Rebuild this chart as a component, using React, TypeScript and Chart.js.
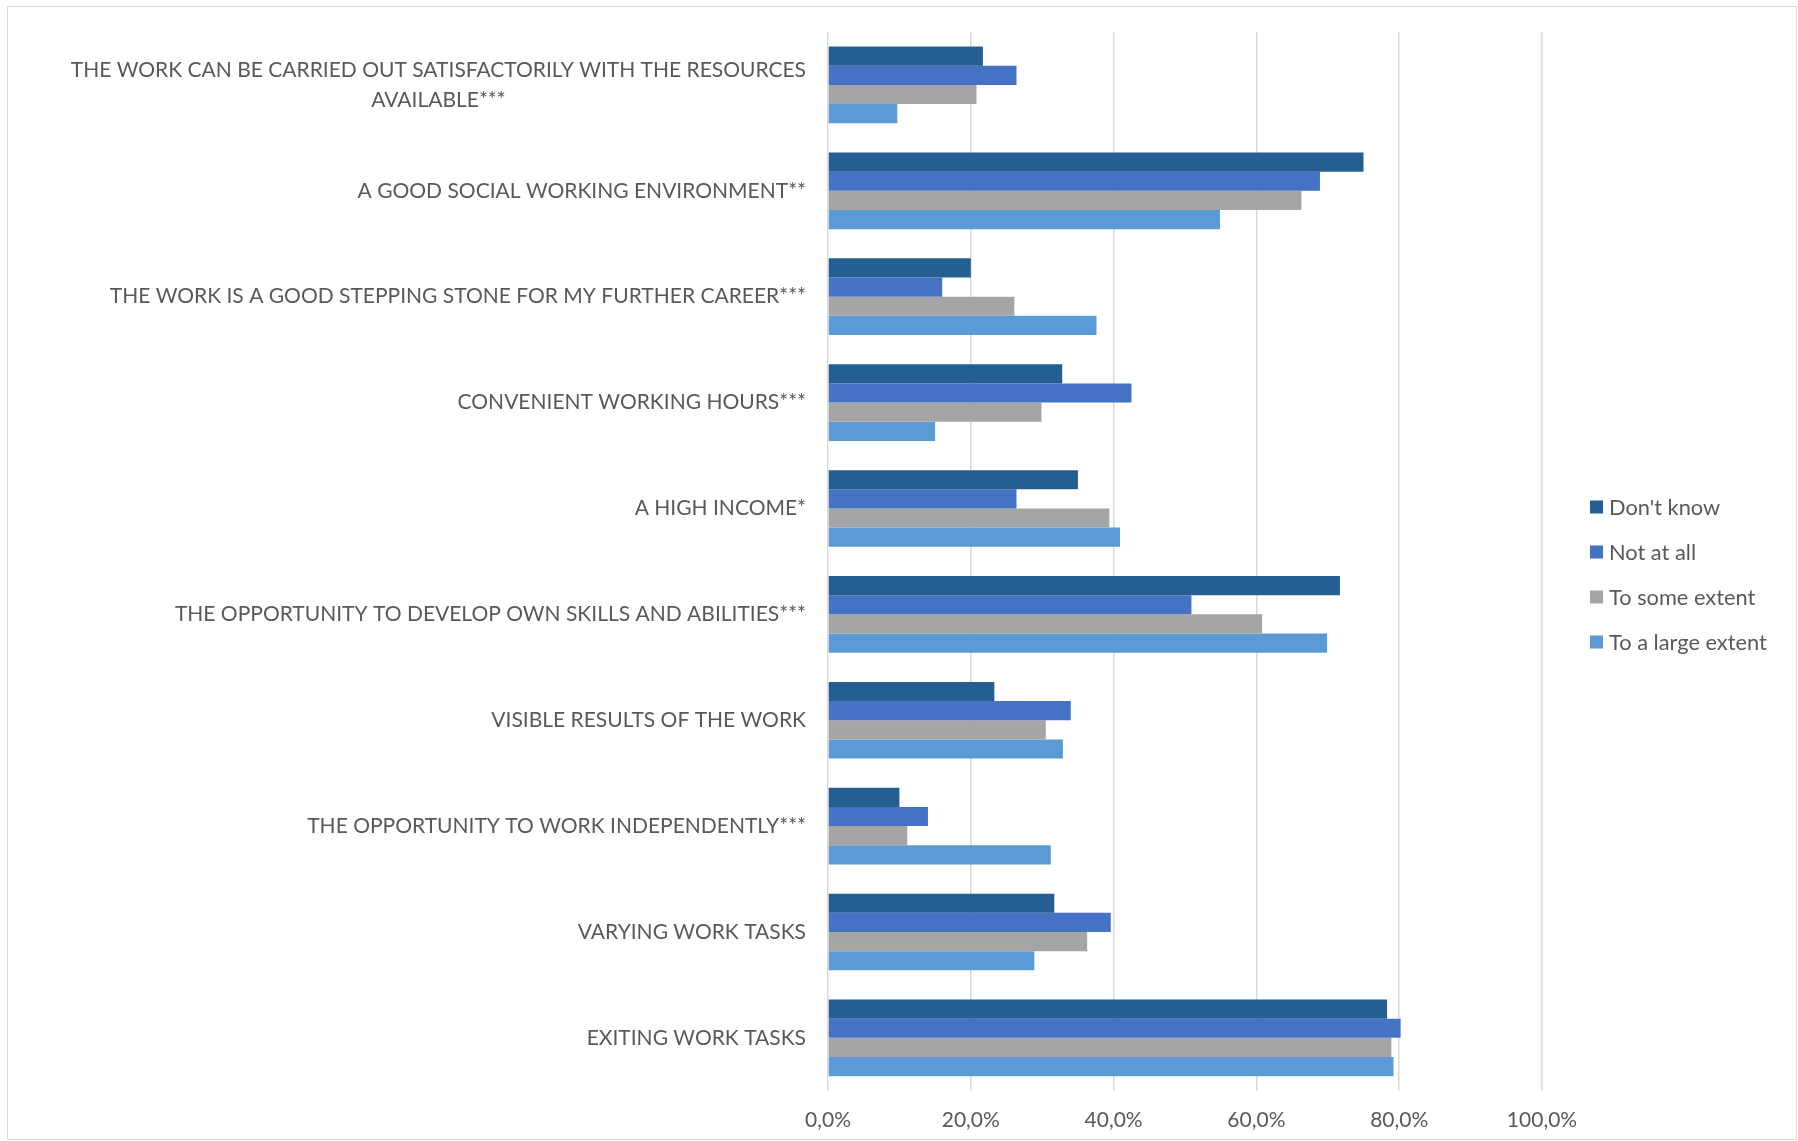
import React, { useEffect, useRef } from "react";
import { Chart, registerables } from "chart.js";

Chart.register(...registerables);

const categories: (string | string[])[] = [
  ["THE WORK CAN BE CARRIED OUT SATISFACTORILY WITH THE RESOURCES", "AVAILABLE***"],
  "A GOOD SOCIAL WORKING ENVIRONMENT**",
  "THE WORK IS A GOOD STEPPING STONE FOR MY FURTHER CAREER***",
  "CONVENIENT WORKING HOURS***",
  "A HIGH INCOME*",
  "THE OPPORTUNITY TO DEVELOP OWN SKILLS AND ABILITIES***",
  "VISIBLE RESULTS OF THE WORK",
  "THE OPPORTUNITY TO WORK INDEPENDENTLY***",
  "VARYING WORK TASKS",
  "EXITING WORK TASKS",
];

const seriesNames = ["Don't know", "Not at all", "To some extent", "To a large extent"];
const dontKnow = [21.7, 75.0, 20.0, 32.8, 35.0, 71.7, 23.3, 10.0, 31.7, 78.3];
const notAtAll = [26.4, 68.9, 16.0, 42.5, 26.4, 50.9, 34.0, 14.0, 39.6, 80.2];
const toSomeExtent = [20.8, 66.3, 26.1, 29.9, 39.4, 60.8, 30.5, 11.1, 36.3, 78.9];
const toALargeExtent = [9.7, 54.9, 37.6, 15.0, 40.9, 69.9, 32.9, 31.2, 28.9, 79.2];
const seriesColors = ["#255E91", "#4472C4", "#A5A5A5", "#5B9BD5"];
const xTicks = [0, 20, 40, 60, 80, 100];

const FONT = "Lato, 'Noto Sans', sans-serif";
const FONT_SIZE = 21;
const LEGEND_FONT_SIZE = 21.8;
const TEXT_COLOR = "#595959";

const yLabelPlugin = {
  id: "yLabels",
  afterDraw(chart: any) {
    const ctx = chart.ctx;
    const yScale = chart.scales.y;
    const area = chart.chartArea;
    ctx.save();
    ctx.font = `${FONT_SIZE}px ${FONT}`;
    ctx.fillStyle = TEXT_COLOR;
    ctx.textBaseline = "middle";
    ctx.textAlign = "center";
    const lineH = 29.6;
    const rightEdge = area.left - 22;
    categories.forEach((lab, i) => {
      const lines = Array.isArray(lab) ? lab : [lab];
      const w = Math.max(...lines.map((l) => ctx.measureText(l).width));
      const cx = rightEdge - w / 2;
      const cy = yScale.getPixelForValue(i);
      lines.forEach((l, j) => {
        ctx.fillText(l, cx, cy + (j - (lines.length - 1) / 2) * lineH);
      });
    });
    ctx.restore();
  },
};

const legendPlugin = {
  id: "customLegend",
  afterDraw(chart: any) {
    const ctx = chart.ctx;
    const area = chart.chartArea;
    ctx.save();
    ctx.font = `${LEGEND_FONT_SIZE}px ${FONT}`;
    ctx.textBaseline = "middle";
    ctx.textAlign = "left";
    const spacing = 45;
    const n = chart.data.datasets.length;
    const cy0 = chart.height / 2 + 4 - ((n - 1) / 2) * spacing;
    const x = area.right + 48;
    chart.data.datasets.forEach((ds: any, i: number) => {
      const cy = cy0 + i * spacing;
      ctx.fillStyle = ds.backgroundColor;
      ctx.fillRect(x, cy - 6.5, 13, 13);
      ctx.fillStyle = TEXT_COLOR;
      ctx.fillText(ds.label, x + 19, cy + 1);
    });
    ctx.restore();
  },
};

export default function App() {
  const ref = useRef<HTMLCanvasElement>(null);

  useEffect(() => {
    if (!ref.current) return;
    const values = [dontKnow, notAtAll, toSomeExtent, toALargeExtent];
    const chart = new Chart(ref.current, {
      type: "bar",
      data: {
        labels: categories.map((c) => (Array.isArray(c) ? c.join(" ") : c)),
        datasets: seriesNames.map((name, i) => ({
          label: name,
          data: values[i],
          backgroundColor: seriesColors[i],
          borderWidth: 0,
          categoryPercentage: 0.724,
          barPercentage: 1.0,
        })),
      },
      options: {
        indexAxis: "y",
        responsive: false,
        animation: false,
        layout: { padding: { left: 828, right: 256, top: 32, bottom: -9 } },
        plugins: {
          legend: { display: false },
          tooltip: { enabled: false },
        },
        scales: {
          y: { display: false },
          x: {
            min: 0,
            max: 100,
            afterBuildTicks: (scale: any) => {
              scale.ticks = xTicks.map((v) => ({ value: v }));
            },
            border: { display: false },
            grid: { color: "#D9D9D9", lineWidth: 1.5, drawTicks: false },
            ticks: {
              padding: 17,
              color: TEXT_COLOR,
              font: { family: FONT, size: FONT_SIZE },
              callback: (v: any) => Number(v).toFixed(1).replace(".", ",") + "%",
            },
          },
        },
      },
      plugins: [yLabelPlugin, legendPlugin],
    });
    return () => chart.destroy();
  }, []);

  return (
    <div>
      <div
        style={{
          position: "fixed",
          left: 7,
          top: 6,
          width: 1790,
          height: 1134,
          boxSizing: "border-box",
          border: "1px solid #D9D9D9",
          background: "#fff",
        }}
      />
      <canvas
        ref={ref}
        width={1798}
        height={1141}
        style={{ position: "fixed", left: 0, top: 0, width: 1798, height: 1141 }}
      />
    </div>
  );
}
